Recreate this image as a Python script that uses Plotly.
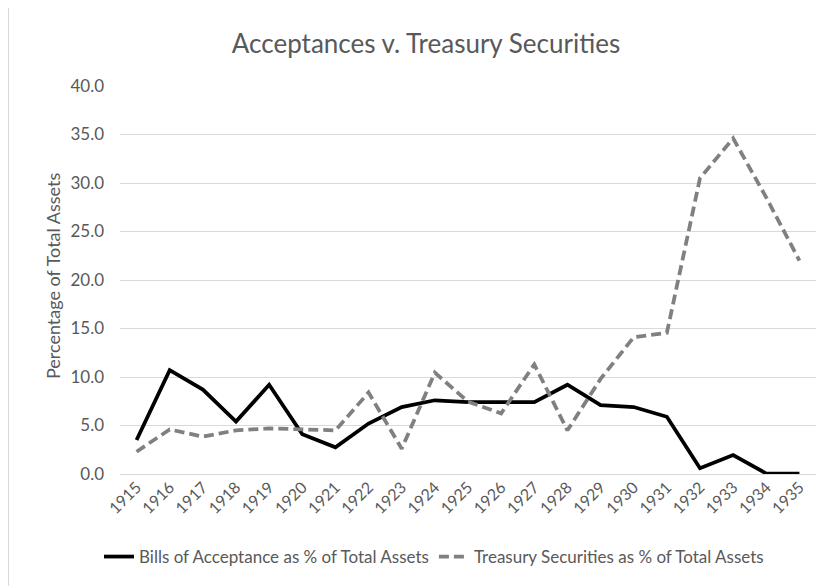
import plotly.graph_objects as go

years = [str(y) for y in range(1915, 1936)]
acceptances = [3.5, 10.7, 8.7, 5.4, 9.2, 4.1, 2.75, 5.2, 6.9, 7.6, 7.4, 7.4, 7.4, 9.2, 7.1, 6.9, 5.9, 0.6, 1.95, 0.05, 0.05]
treasury = [2.3, 4.6, 3.85, 4.5, 4.7, 4.6, 4.5, 8.4, 2.6, 10.45, 7.45, 6.25, 11.3, 4.5, 9.8, 14.1, 14.55, 30.5, 34.6, 28.5, 22.0]
y_ticks = [0, 5, 10, 15, 20, 25, 30, 35, 40]

FONT = "Lato, 'Open Sans', sans-serif"
TXT = "#595959"

W, H = 822, 578
L, R, T, B = 112, 14, 78, 112
PW, PH = W - L - R, H - T - B

fig = go.Figure()
fig.add_trace(go.Scatter(
    x=years, y=acceptances, mode="lines",
    name="Bills of Acceptance as % of Total Assets",
    line=dict(color="#000000", width=3.75),
))
fig.add_trace(go.Scatter(
    x=years, y=treasury, mode="lines",
    name="Treasury Securities as % of Total Assets",
    line=dict(color="#808080", width=3.75, dash="10px,5px"),
))

fig.update_layout(
    width=W, height=H,
    margin=dict(l=L, r=R, t=T, b=B),
    paper_bgcolor="white", plot_bgcolor="white",
    font=dict(family=FONT, color=TXT, size=13),
    title=dict(text="Acceptances v. Treasury Securities", x=(426 - 8) / W, xanchor="center",
               y=1 - 36 / H, yanchor="middle", yref="container",
               font=dict(size=26, color=TXT, family=FONT)),
    showlegend=True,
    legend=dict(orientation="h", x=(434 - 8) / W, xanchor="center", xref="container",
                y=1 - 549 / H, yanchor="middle", yref="container",
                font=dict(size=17, color=TXT, family=FONT),
                traceorder="normal"),
    xaxis=dict(type="category", range=[-0.5, 20.5], tickangle=-45,
               showgrid=False, showline=False, ticks="",
               tickfont=dict(size=16, color=TXT)),
    yaxis=dict(range=[0, 40], tickvals=y_ticks, tickformat=".1f",
               showgrid=True, gridcolor="#d9d9d9", gridwidth=1,
               zeroline=True, zerolinecolor="#d9d9d9", zerolinewidth=1,
               showline=False, ticks="", ticklabelstandoff=15,
               tickfont=dict(size=17, color=TXT)),
)

fig.add_annotation(text="Percentage of Total Assets", textangle=-90,
                   xref="paper", yref="paper",
                   x=(45 - L) / PW, y=(T + PH - 268) / PH,
                   xanchor="center", yanchor="middle", showarrow=False,
                   font=dict(size=18, color=TXT, family=FONT))

fig.add_shape(type="line", xref="paper", yref="paper",
              x0=-(L - 0.5) / PW, x1=-(L - 0.5) / PW, y0=-B / PH, y1=1 + T / PH,
              line=dict(color="#d9d9d9", width=1))

fig.write_html("out.html")
